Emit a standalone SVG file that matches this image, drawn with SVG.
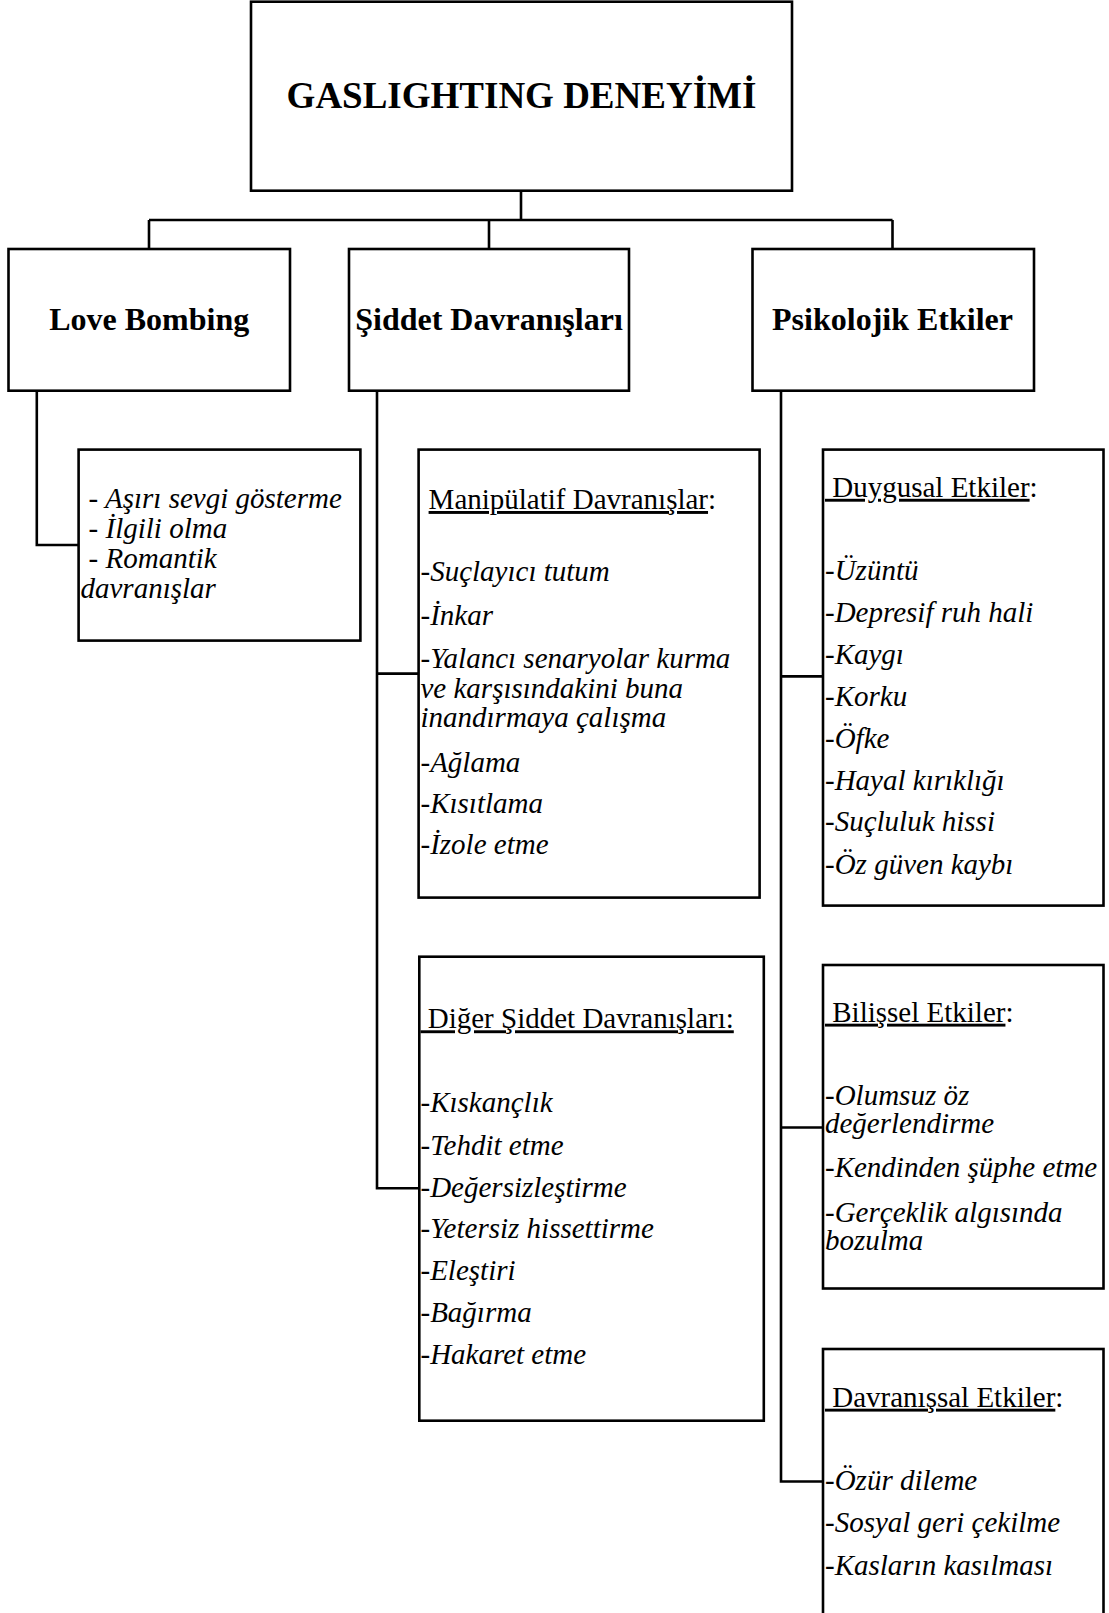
<svg xmlns="http://www.w3.org/2000/svg" width="1109" height="1613" viewBox="0 0 1109 1613">
<style>
.box{fill:#fff;stroke:#000;stroke-width:2.6}
.conn{fill:none;stroke:#000;stroke-width:2.6}
text{font-family:"Liberation Serif","Times New Roman",serif;fill:#000}
.main{font-size:37px;font-weight:bold}
.l2{font-size:32px;font-weight:bold}
.it{font-size:29px;font-style:italic}
.hd{font-size:29px}
.u{text-decoration:underline}
</style>
<rect width="1109" height="1613" fill="#fff"/>
<g id="connectors">
<path class="conn" d="M521,190.7 V220 M149,220 H892.5 M149,220 V249 M489,220 V249 M892.5,220 V249"/>
<path class="conn" d="M36.8,390.7 V545 H78.6"/>
<path class="conn" d="M377,390.7 V1188.3 H419 M377,673.6 H419"/>
<path class="conn" d="M781,390.7 V1481.5 H823 M781,676.4 H823 M781,1127.5 H823"/>
</g>
<g id="node-main">
<rect class="box" x="251" y="1.7" width="541" height="189"/>
<text class="main" x="521.5" y="108" text-anchor="middle">GASLIGHTING DENEYİMİ</text>
</g>
<g id="node-love-bombing">
<rect class="box" x="8.5" y="249" width="281.5" height="141.7"/>
<text class="l2" x="149.2" y="330" text-anchor="middle">Love Bombing</text>
</g>
<g id="node-siddet">
<rect class="box" x="349" y="249" width="280" height="141.7"/>
<text class="l2" x="489" y="330" text-anchor="middle">Şiddet Davranışları</text>
</g>
<g id="node-psikolojik">
<rect class="box" x="752.5" y="249" width="281.5" height="141.7"/>
<text class="l2" x="892.5" y="330" text-anchor="middle">Psikolojik Etkiler</text>
</g>
<g id="node-love-bombing-items">
<rect class="box" x="78.6" y="449.6" width="281.8" height="191"/>
<text class="it" x="88.6" y="508">- Aşırı sevgi gösterme</text>
<text class="it" x="88.6" y="538">- İlgili olma</text>
<text class="it" x="88.6" y="568">- Romantik</text>
<text class="it" x="80.5" y="598">davranışlar</text>
</g>
<g id="node-manipulatif">
<rect class="box" x="418.6" y="449.6" width="341" height="448"/>
<text class="hd" x="428.6" y="509"><tspan class="u">Manipülatif Davranışlar</tspan>:</text>
<text class="it" x="420.5" y="580.7">-Suçlayıcı tutum</text>
<text class="it" x="420.5" y="625">-İnkar</text>
<text class="it" x="420.5" y="668">-Yalancı senaryolar kurma</text>
<text class="it" x="420.5" y="698">ve karşısındakini buna</text>
<text class="it" x="420.5" y="726.5">inandırmaya çalışma</text>
<text class="it" x="420.5" y="771.8">-Ağlama</text>
<text class="it" x="420.5" y="812.9">-Kısıtlama</text>
<text class="it" x="420.5" y="854">-İzole etme</text>
</g>
<g id="node-diger">
<rect class="box" x="419.3" y="956.7" width="344.5" height="464"/>
<text class="hd" x="420.5" y="1028.3"><tspan class="u">&#160;Diğer Şiddet Davranışları:</tspan></text>
<text class="it" x="420.5" y="1111.7">-Kıskançlık</text>
<text class="it" x="420.5" y="1155">-Tehdit etme</text>
<text class="it" x="420.5" y="1196.7">-Değersizleştirme</text>
<text class="it" x="420.5" y="1238.3">-Yetersiz hissettirme</text>
<text class="it" x="420.5" y="1280">-Eleştiri</text>
<text class="it" x="420.5" y="1321.7">-Bağırma</text>
<text class="it" x="420.5" y="1364.3">-Hakaret etme</text>
</g>
<g id="node-duygusal">
<rect class="box" x="823" y="449.6" width="280.5" height="456"/>
<text class="hd" x="825" y="496.8"><tspan class="u">&#160;Duygusal Etkiler</tspan>:</text>
<text class="it" x="825" y="579.6">-Üzüntü</text>
<text class="it" x="825" y="621.8">-Depresif ruh hali</text>
<text class="it" x="825" y="664">-Kaygı</text>
<text class="it" x="825" y="705.7">-Korku</text>
<text class="it" x="825" y="747.9">-Öfke</text>
<text class="it" x="825" y="789.6">-Hayal kırıklığı</text>
<text class="it" x="825" y="831.4">-Suçluluk hissi</text>
<text class="it" x="825" y="873.6">-Öz güven kaybı</text>
</g>
<g id="node-bilissel">
<rect class="box" x="823" y="965" width="280.5" height="323.5"/>
<text class="hd" x="825" y="1021.7"><tspan class="u">&#160;Bilişsel Etkiler</tspan>:</text>
<text class="it" x="825" y="1105">-Olumsuz öz</text>
<text class="it" x="825" y="1133.3">değerlendirme</text>
<text class="it" x="825" y="1176.7">-Kendinden şüphe etme</text>
<text class="it" x="825" y="1221.7">-Gerçeklik algısında</text>
<text class="it" x="825" y="1250">bozulma</text>
</g>
<g id="node-davranissal">
<rect class="box" x="823" y="1349" width="280.5" height="280"/>
<text class="hd" x="825" y="1406.7"><tspan class="u">&#160;Davranışsal Etkiler</tspan>:</text>
<text class="it" x="825" y="1490">-Özür dileme</text>
<text class="it" x="825" y="1531.7">-Sosyal geri çekilme</text>
<text class="it" x="825" y="1575">-Kasların kasılması</text>
</g>
</svg>
